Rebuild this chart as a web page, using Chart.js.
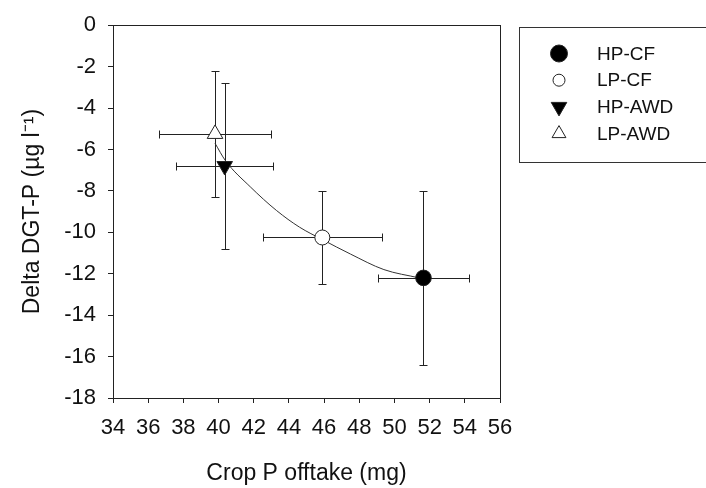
<!DOCTYPE html>
<html>
<head>
<meta charset="utf-8">
<script src="https://cdn.jsdelivr.net/npm/chart.js@4.4.1/dist/chart.umd.min.js"></script>
<style>
  html, body { margin: 0; padding: 0; background: #fff; }
  #wrap { width: 706px; height: 488px; position: relative; }
</style>
</head>
<body>
<div id="wrap"><canvas id="mainChart"></canvas></div>
<script>
// treatment means
const seriesNames = ['HP-CF', 'LP-CF', 'HP-AWD', 'LP-AWD'];
const cropP = [51.65, 45.9, 40.35, 39.8];
const deltaP = [-12.2, -10.25, -6.8, -5.25];
const cropPErr = [2.6, 3.4, 2.75, 3.2];
const deltaPErr = [4.2, 2.25, 4.0, 3.05];

// fitted curve
const fitX = [39.8, 40.4, 41.8, 43.3, 44.6, 45.9, 47.5, 49.4, 51.4];
const fitY = [-5.7, -6.55, -7.8, -8.95, -9.75, -10.35, -11.05, -11.8, -12.2];

const xTicks = [34, 36, 38, 40, 42, 44, 46, 48, 50, 52, 54, 56];
const yTicks = [-18, -16, -14, -12, -10, -8, -6, -4, -2, 0];

const FONT = "'Liberation Sans', Arial, sans-serif";
const INK = '#111';

// marker look per series: [shape, filled, radius in plot, radius in legend]
const markers = [
    ['circle', true, 7.8, 8.5],
    ['circle', false, 7.5, 6],
    ['down', true, 9, 9],
    ['up', false, 9, 8]
];

function drawMarker(c, shape, filled, x, y, r) {
    c.save();
    c.beginPath();
    if (shape === 'circle') {
        c.arc(x, y, r, 0, Math.PI * 2);
    } else {
        const s = shape === 'up' ? -1 : 1;
        const h = Math.sin(Math.PI / 3) * r;
        c.moveTo(x, y + s * r);
        c.lineTo(x - h, y - s * r / 2);
        c.lineTo(x + h, y - s * r / 2);
        c.closePath();
    }
    c.fillStyle = filled ? '#000' : '#fff';
    c.fill();
    c.lineWidth = 1;
    c.strokeStyle = '#222';
    c.stroke();
    c.restore();
}

const errorBars = {
    id: 'errorBars',
    beforeDatasetsDraw(chart) {
        const c = chart.ctx, xs = chart.scales.x, ys = chart.scales.y;
        c.save();
        c.strokeStyle = '#222';
        c.lineWidth = 1;
        cropP.forEach((v, i) => {
            const px = Math.round(xs.getPixelForValue(v)) + 0.5;
            const py = Math.round(ys.getPixelForValue(deltaP[i])) + 0.5;
            const x0 = Math.round(xs.getPixelForValue(v - cropPErr[i])) + 0.5;
            const x1 = Math.round(xs.getPixelForValue(v + cropPErr[i])) + 0.5;
            const y0 = Math.round(ys.getPixelForValue(deltaP[i] + deltaPErr[i])) + 0.5;
            const y1 = Math.round(ys.getPixelForValue(deltaP[i] - deltaPErr[i])) + 0.5;
            c.beginPath();
            c.moveTo(x0, py); c.lineTo(x1, py);
            c.moveTo(x0, py - 4); c.lineTo(x0, py + 4);
            c.moveTo(x1, py - 4); c.lineTo(x1, py + 4);
            c.moveTo(px, y0); c.lineTo(px, y1);
            c.moveTo(px - 4, y0); c.lineTo(px + 4, y0);
            c.moveTo(px - 4, y1); c.lineTo(px + 4, y1);
            c.stroke();
        });
        c.restore();
    }
};

const frameAndLegend = {
    id: 'frameAndLegend',
    afterDraw(chart) {
        const c = chart.ctx, a = chart.chartArea;
        c.save();
        c.strokeStyle = '#222';
        c.lineWidth = 1;
        c.strokeRect(Math.round(a.left) + 0.5, Math.round(a.top) + 0.5,
                     Math.round(a.right - a.left), Math.round(a.bottom - a.top));
        // legend box (runs off the right edge like the original)
        c.strokeStyle = '#333';
        c.strokeRect(519.5, 27.5, 200, 135);
        c.font = '19px ' + FONT;
        c.fillStyle = INK;
        c.textBaseline = 'middle';
        seriesNames.forEach((name, i) => {
            const y = 53.5 + i * 26.7;
            const m = markers[i];
            drawMarker(c, m[0], m[1], 559, y, m[3]);
            c.fillText(name, 597, y + 1);
        });
        c.restore();
    }
};

const pointSets = seriesNames.map((name, i) => ({
    type: 'scatter',
    label: name,
    data: [{ x: cropP[i], y: deltaP[i] }],
    pointRadius: 0,
    order: 0
}));

const markerDraw = {
    id: 'markerDraw',
    afterDatasetsDraw(chart) {
        const c = chart.ctx, xs = chart.scales.x, ys = chart.scales.y;
        cropP.forEach((v, i) => {
            const m = markers[i];
            drawMarker(c, m[0], m[1], xs.getPixelForValue(v), ys.getPixelForValue(deltaP[i]), m[2]);
        });
    }
};

const ctx = document.getElementById('mainChart').getContext('2d');
const chart = new Chart(ctx, {
    type: 'scatter',
    data: {
        datasets: [
            ...pointSets,
            {
                type: 'line',
                label: 'fit',
                data: fitX.map((x, i) => ({ x: x, y: fitY[i] })),
                borderColor: '#333',
                borderWidth: 1,
                pointRadius: 0,
                cubicInterpolationMode: 'monotone',
                fill: false,
                order: 5
            }
        ]
    },
    options: {
        responsive: true,
        maintainAspectRatio: false,
        animation: false,
        layout: { padding: { left: 0, top: 23, right: 206, bottom: 0 } },
        plugins: { legend: { display: false }, tooltip: { enabled: false } },
        scales: {
            x: {
                type: 'linear',
                min: 34, max: 56,
                afterBuildTicks: s => { s.ticks = xTicks.map(v => ({ value: v })); },
                afterFit: s => { s.height = 90; },
                grid: { drawOnChartArea: false, drawTicks: true, tickLength: 5, tickColor: '#222' },
                border: { display: true, color: '#222', width: 1 },
                ticks: { color: INK, padding: 12, maxRotation: 0, autoSkip: false, font: { family: FONT, size: 22 } },
                title: { display: true, text: 'Crop P offtake (mg)', color: INK, padding: { top: 0, bottom: 1 }, font: { family: FONT, size: 23 } }
            },
            y: {
                type: 'linear',
                min: -18, max: 0,
                afterBuildTicks: s => { s.ticks = yTicks.map(v => ({ value: v })); },
                afterFit: s => { s.width = 113; },
                grid: { drawOnChartArea: false, drawTicks: true, tickLength: 5, tickColor: '#222' },
                border: { display: true, color: '#222', width: 1 },
                ticks: { color: INK, padding: 12, autoSkip: false, font: { family: FONT, size: 22 } },
                title: { display: true, text: 'Delta DGT-P (\u00b5g l\u207b\u00b9)', color: INK, padding: { top: 19, bottom: 0 }, font: { family: FONT, size: 23 } }
            }
        }
    },
    plugins: [errorBars, markerDraw, frameAndLegend]
});
</script>
</body>
</html>
